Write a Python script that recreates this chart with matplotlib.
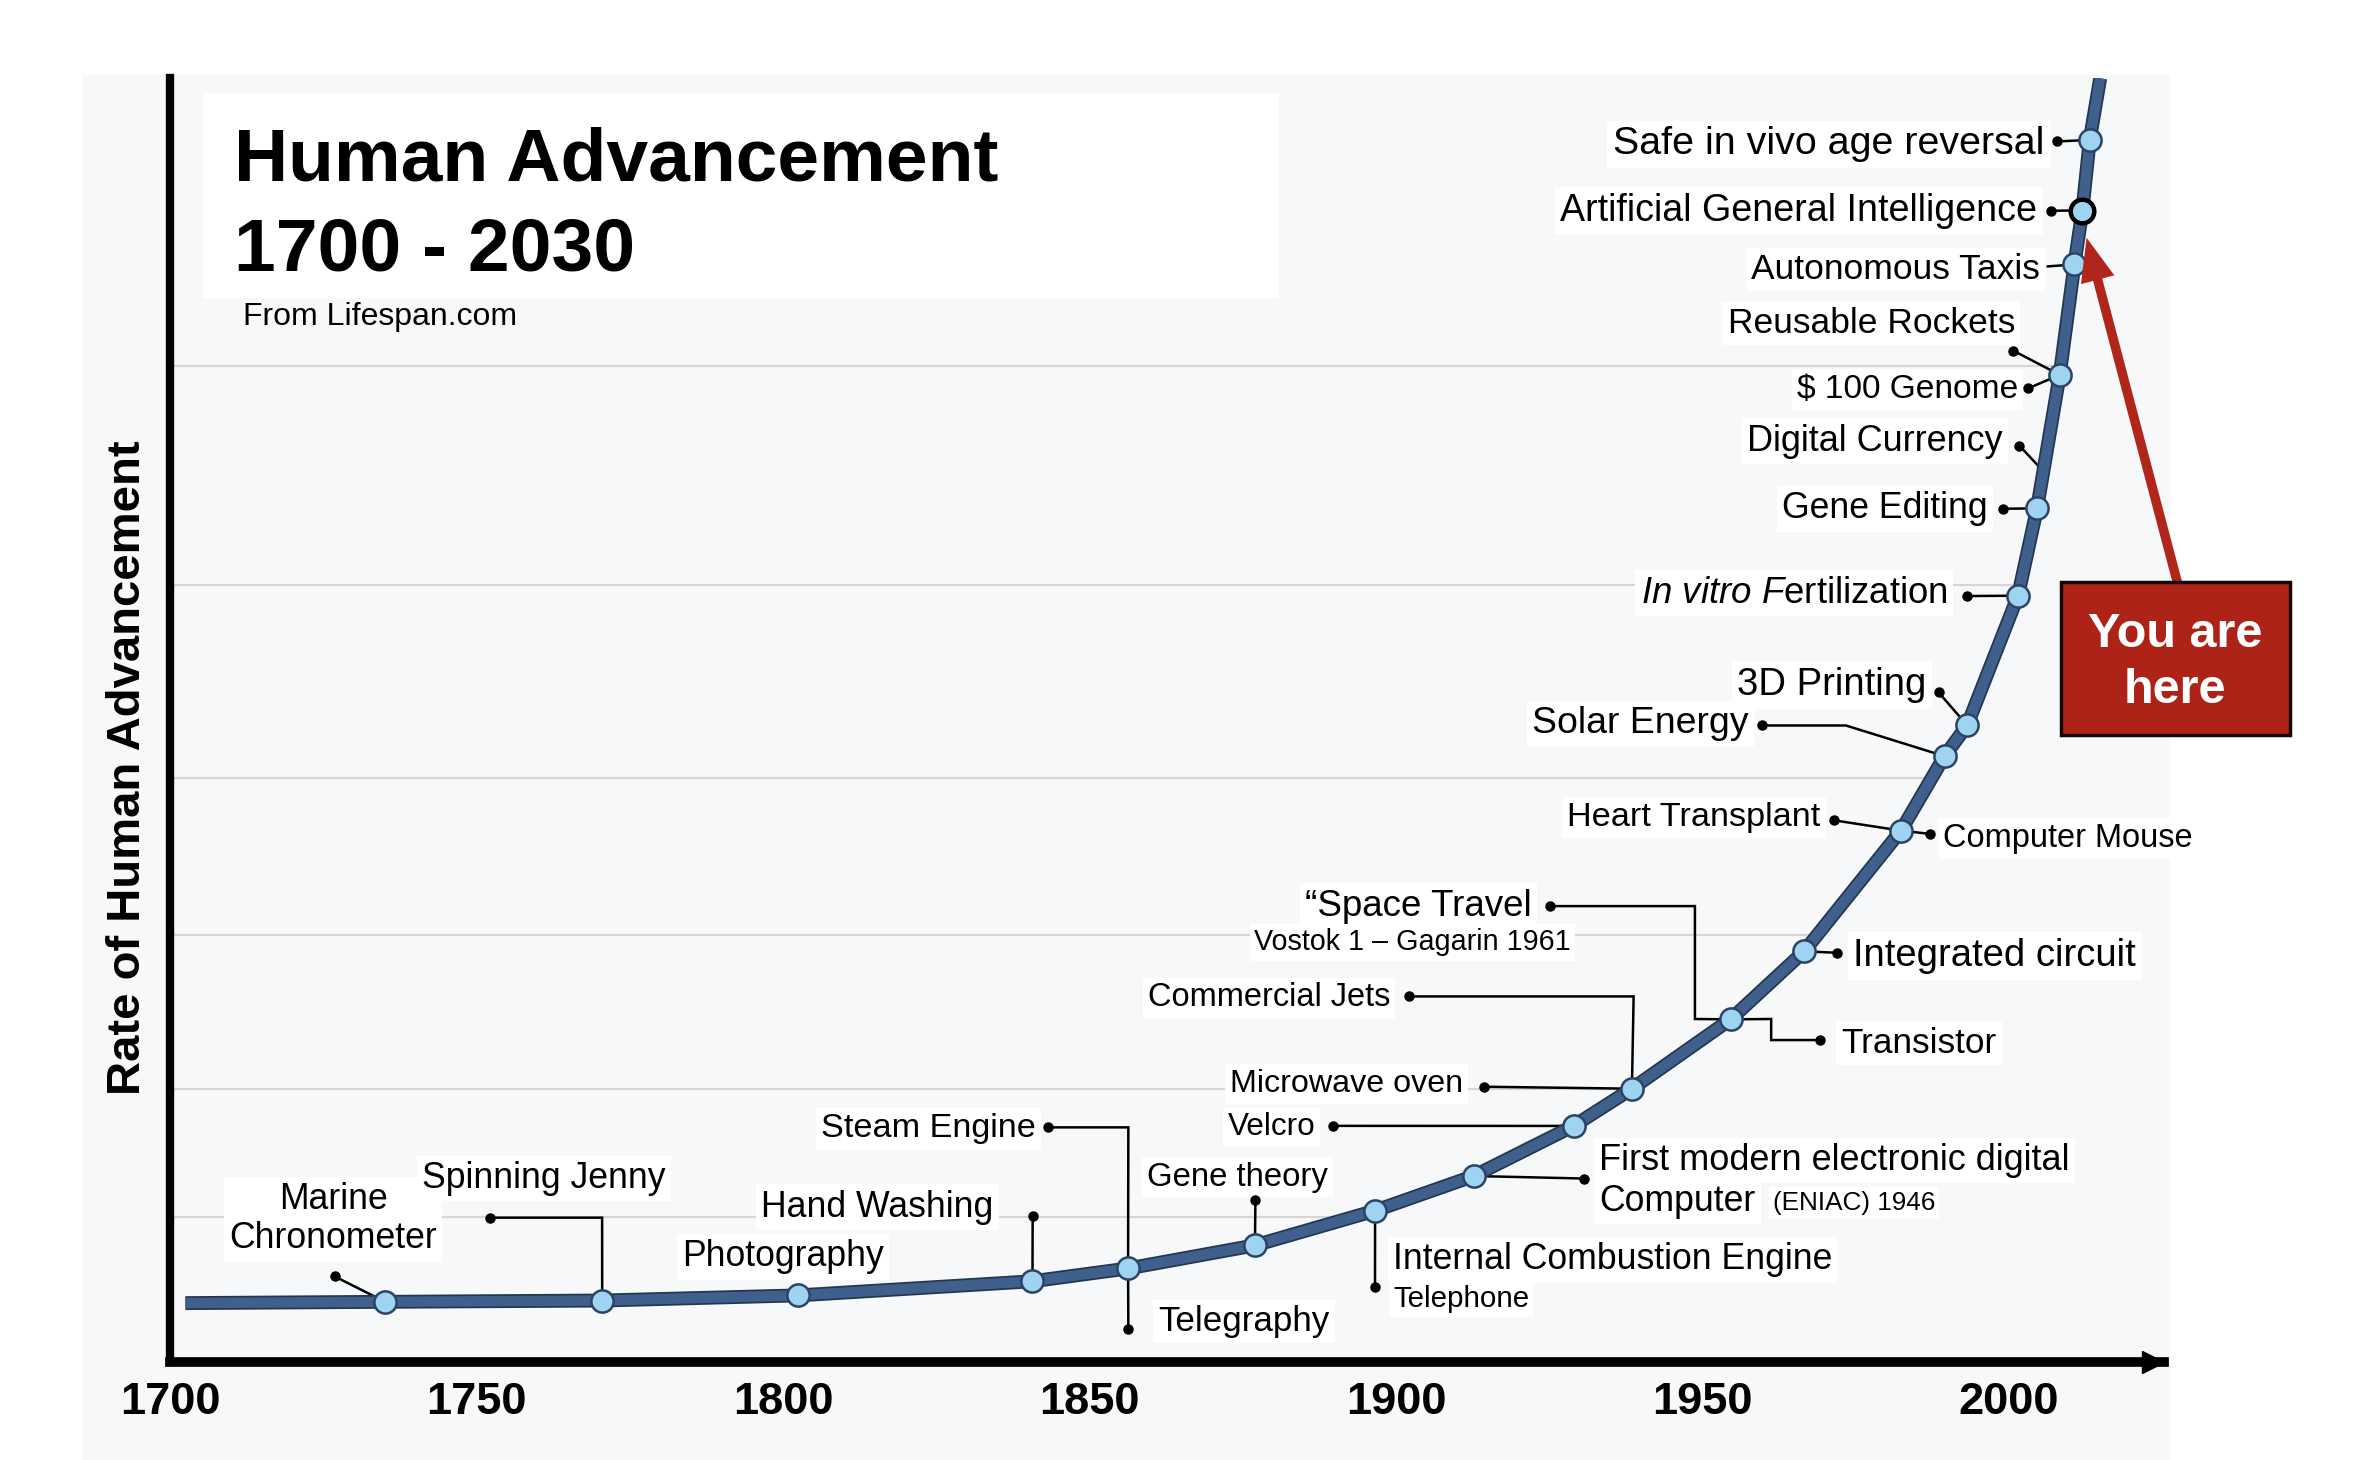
import numpy as np
import matplotlib
matplotlib.use("Agg")
import matplotlib.pyplot as plt
from matplotlib.patches import Rectangle
import matplotlib.patheffects as pe

plt.rcParams['font.family'] = ['Liberation Sans', 'DejaVu Sans']
plt.rcParams['mathtext.fontset'] = 'custom'
plt.rcParams['mathtext.rm'] = 'Liberation Sans'
plt.rcParams['mathtext.it'] = 'Liberation Sans:italic'

# ---------------- data ----------------
curve_years = [1702.5, 1735.1, 1770.5, 1802.4, 1840.7, 1856.3, 1877.0, 1896.6, 1912.7,
               1929.0, 1938.5, 1954.6, 1966.6, 1982.4, 1989.5, 1993.2, 2001.5, 2004.6,
               2008.3, 2010.7, 2012.0, 2013.2, 2014.9]
curve_values = [4.6, 4.7, 4.8, 5.2, 6.3, 7.3, 9.1, 11.8, 14.5,
                18.4, 21.3, 26.7, 32.0, 41.4, 47.2, 49.6, 59.7, 66.5,
                76.9, 85.5, 89.7, 95.2, 100.0]

milestone_years = [1735.1, 1770.5, 1802.4, 1840.7, 1856.3, 1877.0, 1896.6, 1912.7,
                   1929.0, 1938.5, 1954.6, 1966.6, 1982.4, 1989.5, 1993.2, 2001.5,
                   2004.6, 2008.3, 2010.7, 2012.0, 2013.2]
milestone_values = [4.7, 4.8, 5.2, 6.3, 7.3, 9.1, 11.8, 14.5,
                    18.4, 21.3, 26.7, 32.0, 41.4, 47.2, 49.6, 59.7,
                    66.5, 76.9, 85.5, 89.7, 95.2]

milestone_labels = [
    "Marine\nChronometer", "Spinning Jenny", "Photography", "Hand Washing",
    "Steam Engine", "Telegraphy", "Gene theory", "Internal Combustion Engine",
    "Telephone", "First modern electronic digital", "Computer", "(ENIAC) 1946",
    "Velcro", "Microwave oven", "Commercial Jets", "\u201cSpace Travel",
    "Vostok 1 \u2013 Gagarin 1961", "Transistor", "Integrated circuit",
    "Heart Transplant", "Computer Mouse", "Solar Energy", "3D Printing",
    r"$\mathit{In\ vitro\ F}$ertilization", "Gene Editing", "Digital Currency",
    r"\$ 100 Genome", "Reusable Rockets", "Autonomous Taxis",
    "Artificial General Intelligence", "Safe in vivo age reversal",
]

grid_values = [77.6, 60.5, 45.5, 33.3, 21.3, 11.3]

x_ticks = [1700, 1750, 1800, 1850, 1900, 1950, 2000]
x_tick_labels = ["1700", "1750", "1800", "1850", "1900", "1950", "2000"]

title_lines = ["Human Advancement", "1700 - 2030"]
subtitle = "From Lifespan.com"
y_label = "Rate of Human Advancement"
callout = "You are\nhere"
highlight_index = 19  # Artificial General Intelligence

# ---------------- layout helpers ----------------
W_REF, H_REF = 1568.0, 970.0
FS = 0.988  # font scale


def P(x, y):
    """reference layout position -> data coordinates"""
    return 1700 + (x - 104) / 4.1, (905 - y) / 8.53


def F(x, y):
    """reference layout position -> figure fraction"""
    return x / W_REF, 1 - y / H_REF


fig = plt.figure(figsize=(23.6, 14.6), dpi=100)
fig.patch.set_facecolor('white')

# background panels
x0, y0 = F(55, 970)
x1, y1 = F(1442, 50)
fig.add_artist(Rectangle((x0, y0), x1 - x0, y1 - y0, transform=fig.transFigure,
                         fc='#f7f8f9', ec='none', zorder=-10))
x0, y0 = F(135, 198)
x1, y1 = F(850, 62)
fig.add_artist(Rectangle((x0, y0), x1 - x0, y1 - y0, transform=fig.transFigure,
                         fc='white', ec='none', zorder=-9))

left, bottom = F(113, 905)
right, top = F(1438, 52)
ax = fig.add_axes([left, bottom, right - left, top - bottom])
ax.set_facecolor('none')
ax.set_xlim(P(113, 0)[0], P(1438, 0)[0])
ax.set_ylim(0, P(0, 52)[1])

# spines
for s in ['top', 'right']:
    ax.spines[s].set_visible(False)
ax.spines['left'].set_linewidth(6)
ax.spines['bottom'].set_linewidth(7)
for s in ['left', 'bottom']:
    ax.spines[s].set_color('black')
    ax.spines[s].set_capstyle('projecting')
ax.plot(0.9945, 0, marker='>', ms=16, color='black', transform=ax.transAxes,
        clip_on=False, zorder=10)

ax.set_yticks([])
ax.set_xticks(x_ticks)
ax.set_xticklabels(x_tick_labels, fontsize=32.5, fontweight='bold')
ax.tick_params(axis='x', length=0, pad=14)

ax.set_ylabel(y_label, fontsize=34, fontweight='bold', va='center')
ax.yaxis.set_label_coords((85 - 113) / 1325, (905 - 510) / 853)

# grid lines that stop at the curve
xmin = ax.get_xlim()[0]
for gv in grid_values:
    xmax = np.interp(gv, curve_values, curve_years)
    ax.hlines(gv, xmin, xmax, color='#d6d6d6', lw=1.6, zorder=1)

# curve and milestones
ax.plot(curve_years, curve_values, color='#3f5f8d', lw=7.5, zorder=3,
        solid_capstyle='butt',
        path_effects=[pe.Stroke(linewidth=10, foreground='#223650'), pe.Normal()])
ax.plot(milestone_years, milestone_values, 'o', ms=16, mfc='#9fd3f2',
        mec='#2b4465', mew=1.8, zorder=4, clip_on=False)
ax.plot(milestone_years[highlight_index], milestone_values[highlight_index], 'o',
        ms=17, mfc='#9fd3f2', mec='black', mew=3.2, zorder=4.5)

# title block (baseline aligned)
ax.text(*P(147, 119.6), title_lines[0], fontsize=54, fontweight='bold', ha='left',
        va='baseline', clip_on=False, zorder=6)
ax.text(*P(147, 179.4), title_lines[1], fontsize=54, fontweight='bold', ha='left',
        va='baseline', clip_on=False, zorder=6)
ax.text(*P(153, 216), subtitle, fontsize=23, ha='left', va='baseline',
        clip_on=False, zorder=6)

# label layout: (label index, x, y, ha, size, leader points, marker index, dot)
layout = [
    (0, 213, 808, 'center', 26, [(214, 848)], 0, True),
    (1, 354, 781, 'center', 26, [(318, 809), (393, 809)], 1, True),
    (2, 514, 833, 'center', 26, [], None, False),
    (3, 577, 800, 'center', 26, [(681, 808)], 3, True),
    (4, 683, 748, 'right', 25, [(691, 749), (745, 749)], 4, True),
    (5, 765, 876, 'left', 25.5, [(745, 883)], 4, True),
    (6, 818, 780, 'center', 24, [(830, 797)], 5, True),
    (7, 922, 835, 'left', 26, [(910, 855)], 6, True),
    (8, 922, 861, 'left', 21.5, [], None, False),
    (9, 1060, 769, 'left', 26.3, [(1050, 783)], 7, True),
    (10, 1060, 796, 'left', 26, [], None, False),
    (11, 1176, 797, 'left', 19, [], None, False),
    (12, 870, 747, 'right', 23, [(882, 748)], 8, True),
    (13, 969, 718, 'right', 23.5, [(983, 722)], 9, True),
    (14, 920, 661, 'right', 23.7, [(933, 662), (1083, 662)], 9, True),
    (15, 1015, 600, 'right', 26.8, [(1027, 602), (1124, 602), (1124, 677)], 10, True),
    (16, 935, 624, 'center', 21, [], None, False),
    (17, 1222, 691, 'left', 25.6, [(1208, 691), (1175, 691), (1175, 677)], 10, True),
    (18, 1230, 633, 'left', 27.9, [(1219, 633)], 11, True),
    (19, 1208, 541, 'right', 25, [(1217, 545)], 12, True),
    (20, 1290, 555, 'left', 23.7, [(1281, 554)], 12, True),
    (21, 1160, 479, 'right', 27.3, [(1169, 482), (1225, 482)], 13, True),
    (22, 1279, 453, 'right', 27.9, [(1287, 460)], 14, True),
    (23, 1293, 392, 'right', 26.7, [(1306, 396)], 15, True),
    (24, 1320, 336, 'right', 26, [(1330, 338)], 16, True),
    (25, 1330, 291, 'right', 26.2, [(1341, 296), (1356, 312)], None, True),
    (26, 1340, 257, 'right', 24.4, [(1347, 258)], 17, True),
    (27, 1242, 213, 'center', 25.8, [(1337, 233)], 17, True),
    (28, 1355, 177, 'right', 25.8, [(1360, 177)], 18, False),
    (29, 1353, 138, 'right', 27.4, [(1362, 140)], 19, True),
    (30, 1358, 94, 'right', 28.7, [(1366, 94)], 20, True),
]

box = dict(boxstyle='square,pad=0.15', fc='white', ec='none')


def draw_leader(points, marker_idx, dot):
    xs, ys = [], []
    for (px, py) in points:
        dx, dy = P(px, py)
        xs.append(dx)
        ys.append(dy)
    if marker_idx is not None:
        xs.append(milestone_years[marker_idx])
        ys.append(milestone_values[marker_idx])
    if len(xs) > 1:
        ax.plot(xs, ys, color='black', lw=1.8, zorder=2, clip_on=False,
                solid_joinstyle='miter')
    if dot and points:
        ax.plot(xs[0], ys[0], 'o', color='black', ms=6.5, zorder=7, clip_on=False)


for (li, tx, ty, ha, size, pts, mi, dot) in layout:
    ax.text(*P(tx, ty + 2), milestone_labels[li], ha=ha, va='center', fontsize=size * FS,
            color='black', bbox=box, clip_on=False, zorder=5, linespacing=1.15)
    draw_leader(pts, mi, dot)

# "You are here" call-out
ax.annotate('', xy=P(1386, 158), xytext=P(1447, 388),
            arrowprops=dict(arrowstyle='simple,head_length=0.78,head_width=0.62,tail_width=0.17',
                            mutation_scale=40, fc='#b0261a', ec='none',
                            shrinkA=0, shrinkB=0),
            annotation_clip=False, zorder=6)
bx0, by0 = P(1369, 488)
bx1, by1 = P(1522, 387)
ax.add_patch(Rectangle((bx0, by0), bx1 - bx0, by1 - by0, fc='#ad2317', ec='#160808',
                       lw=2.5, zorder=7, clip_on=False))
ax.text(*P(1445, 440), callout, ha='center', va='center', fontsize=35,
        fontweight='bold', color='white', linespacing=1.3, zorder=8, clip_on=False)

fig.savefig('out.png', dpi=100, facecolor=fig.get_facecolor())
